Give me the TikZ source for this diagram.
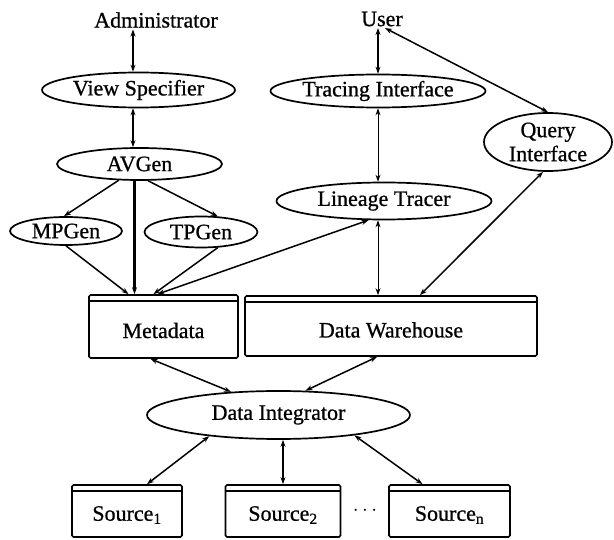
\documentclass[tikz,border=0pt]{standalone}
\usepackage{fontspec}
\setmainfont[FakeBold=0.8]{Liberation Serif}
\usetikzlibrary{shapes.geometric,arrows.meta,calc}
\begin{document}
\begin{tikzpicture}[x=1pt,y=-1pt,font=\fontsize{22}{24}\selectfont,
  line width=1.5pt,
  ell/.style={draw,ellipse,inner sep=0pt,line width=1.7pt},
  db/.style={draw,rectangle,rounded corners=1.5pt,inner sep=0pt,line width=1.7pt,
    path picture={\draw[line width=1.2pt] ([yshift=-6pt]path picture bounding box.north west) -- ([yshift=-6pt]path picture bounding box.north east);}},
  arr/.style={-{Stealth[length=7pt,width=5pt]}},
  biarr/.style={{Stealth[length=7pt,width=5pt]}-{Stealth[length=7pt,width=5pt]}},
  txt/.style={inner sep=1pt}]
\useasboundingbox (0,0) rectangle (614,540);

\node[txt] (admin) at (156,20) {Administrator};
\node[txt] (user) at (382,19) {User};
\node[ell,minimum width=193pt,minimum height=35pt,label={center:View Specifier}] (vs) at (138.5,90) {};
\node[ell,minimum width=165pt,minimum height=32pt,label={center:AVGen}] (avgen) at (139.5,164) {};
\node[ell,minimum width=215pt,minimum height=33pt,label={center:Tracing Interface}] (ti) at (378,91) {};
\node[ell,minimum width=128pt,minimum height=58pt,label={[align=center]center:Query\\Interface}] (qi) at (548,142) {};
\node[ell,minimum width=215pt,minimum height=37pt,label={center:Lineage Tracer}] (lt) at (384,201) {};
\node[ell,minimum width=112pt,minimum height=28pt,label={center:MPGen}] (mp) at (66,231) {};
\node[ell,minimum width=113pt,minimum height=31pt,label={center:TPGen}] (tp) at (201,232) {};
\node[db,minimum width=149pt,minimum height=63pt,label={[yshift=-4pt]center:Metadata}] (meta) at (163.5,326.5) {};
\node[db,minimum width=292pt,minimum height=60pt,label={[yshift=-4pt]center:Data Warehouse}] (dw) at (391,326) {};
\node[ell,minimum width=263pt,minimum height=48pt,label={center:Data Integrator}] (di) at (278.5,415) {};
\node[db,minimum width=110pt,minimum height=52pt,label={[yshift=-4pt]center:Source\textsubscript{1}}] (s1) at (127,511) {};
\node[db,minimum width=115pt,minimum height=52pt,label={[yshift=-4pt]center:Source\textsubscript{2}}] (s2) at (283,511) {};
\node[db,minimum width=121pt,minimum height=52pt,label={[yshift=-4pt]center:Source\textsubscript{n}}] (sn) at (449.5,511) {};
\node[txt] (dots) at (365,511) {$\cdots$};

\coordinate (vsN) at ([xshift=-5.5pt]vs.north);
\coordinate (vsS) at ([xshift=-5.5pt]vs.south);
\coordinate (avN) at ([xshift=-6.5pt]avgen.north);
\coordinate (avS) at ([xshift=-5pt]avgen.south);
\coordinate (ltS) at ([xshift=-6pt]lt.south);

\draw[biarr] (vsN |- admin.south) -- (vsN);
\draw[biarr] (vsS) -- (avN);
\draw[arr] (avgen.218) -- ([xshift=-2pt]mp.north);
\draw[arr] (avgen.297) -- (tp.43);
\draw[arr,line width=2.4pt] (avS) -- (avS |- meta.north);
\draw[arr] (mp.south) -- ([xshift=-35pt]meta.north);
\draw[arr] (tp.317) -- ([xshift=-10pt]meta.north);
\draw[biarr] (lt.231) -- ([xshift=-6pt]meta.north);

\draw[biarr] (ti.north |- user.south) -- (ti.north);
\draw[biarr,line width=1pt] (ti.south) -- (ti.south |- lt.north);
\draw[biarr,line width=1pt] (ltS) -- (ltS |- dw.north);
\draw[biarr] ([xshift=3pt]user.south) -- (qi.north);
\draw[biarr] ([xshift=-5pt]qi.south) -- ([xshift=29pt]dw.north);

\draw[biarr] ([xshift=-13pt]meta.south) -- (di.154);
\draw[biarr] ([xshift=-14pt]dw.south) -- (di.42);
\draw[biarr] (di.197) -- ([xshift=20pt]s1.north);
\draw[biarr] (s2.north |- di.south) -- (s2.north);
\draw[biarr] (di.345) -- ([xshift=-27pt]sn.north);
\end{tikzpicture}
\end{document}
